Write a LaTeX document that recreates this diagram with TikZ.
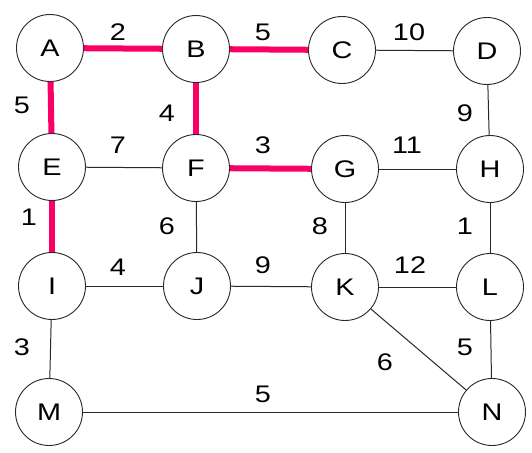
\documentclass[tikz,border=0pt]{standalone}
\usepackage{fontspec}
\setmainfont{Liberation Sans}[FakeStretch=1.2]
\definecolor{pathred}{RGB}{250,0,100}
\definecolor{linegray}{RGB}{40,40,40}
\tikzset{
  vtx/.style={circle, draw=linegray, line width=0.9pt, minimum size=67pt, inner sep=0pt, fill=white, font=\fontsize{24}{27}\selectfont},
  wt/.style={inner sep=0pt, font=\fontsize{24}{27}\selectfont},
  plain/.style={draw=linegray, line width=1pt},
  chosen/.style={draw=pathred, line width=6pt}
}
\begin{document}
\begin{tikzpicture}[x=1pt,y=-1pt]
\useasboundingbox (0,0) rectangle (532,452);
% vertices
\node[vtx] (A) at (50,48) {A};
\node[vtx] (B) at (196,49) {B};
\node[vtx] (C) at (342,50) {C};
\node[vtx] (D) at (487,51) {D};
\node[vtx] (E) at (52,167) {E};
\node[vtx] (F) at (196,168) {F};
\node[vtx] (G) at (345,169) {G};
\node[vtx] (H) at (490,169) {H};
\node[vtx] (I) at (52,286) {I};
\node[vtx] (J) at (197,286) {J};
\node[vtx] (K) at (345,287) {K};
\node[vtx] (L) at (490,287) {L};
\node[vtx] (M) at (49,412) {M};
\node[vtx] (N) at (492,412) {N};
% edges
\path[chosen] (A) -- (B);
\path[chosen] (B) -- (C);
\path[chosen] (A) -- (E);
\path[chosen] (B) -- (F);
\path[chosen] (E) -- (I);
\path[chosen] (F) -- (G);
\path[plain] (C) -- (D);
\path[plain] (D) -- (H);
\path[plain] (E) -- (F);
\path[plain] (G) -- (H);
\path[plain] (F) -- (J);
\path[plain] (G) -- (K);
\path[plain] (H) -- (L);
\path[plain] (I) -- (J);
\path[plain] (J) -- (K);
\path[plain] (K) -- (L);
\path[plain] (I) -- (M);
\path[plain] (K) -- (N);
\path[plain] (L) -- (N);
\path[plain] (M) -- (N);
% weights
\node[wt] (wAB) at (118,32) {2};
\node[wt] (wBC) at (263,32) {5};
\node[wt] (wCD) at (409,32) {10};
\node[wt] (wAE) at (22,105) {5};
\node[wt] (wBF) at (167,113) {4};
\node[wt] (wDH) at (465,113) {9};
\node[wt] (wEF) at (118,145) {7};
\node[wt] (wFG) at (263,145) {3};
\node[wt] (wGH) at (407,145) {11};
\node[wt] (wEI) at (29,217) {1};
\node[wt] (wFJ) at (167,226) {6};
\node[wt] (wGK) at (320,226) {8};
\node[wt] (wHL) at (465,226) {1};
\node[wt] (wIJ) at (118,267) {4};
\node[wt] (wJK) at (263,265) {9};
\node[wt] (wKL) at (410,265) {12};
\node[wt] (wIM) at (22,347) {3};
\node[wt] (wKN) at (385,362) {6};
\node[wt] (wLN) at (465,347) {5};
\node[wt] (wMN) at (263,394) {5};
\end{tikzpicture}
\end{document}
